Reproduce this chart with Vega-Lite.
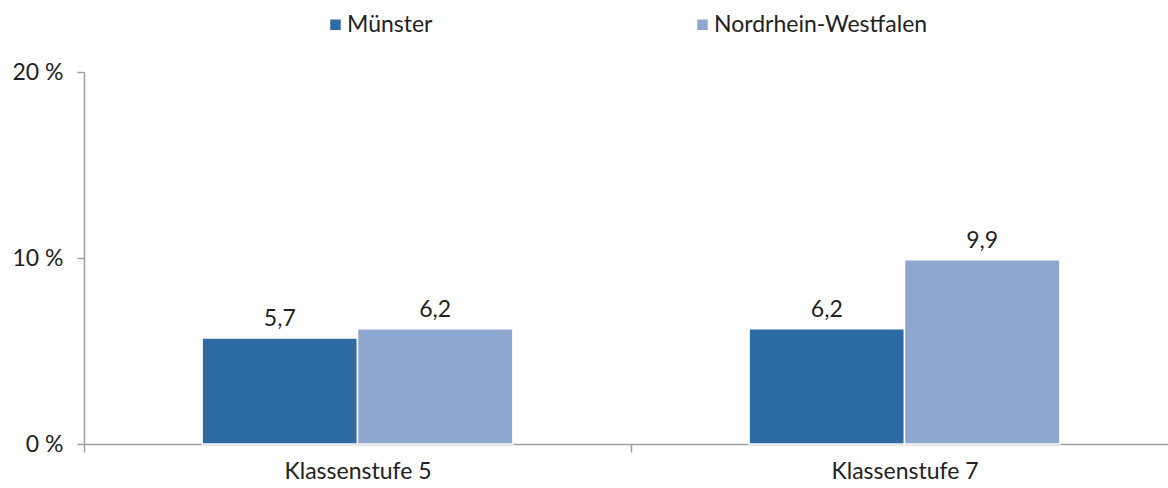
{
  "$schema": "https://vega.github.io/schema/vega-lite/v6.json",
  "width": 1094,
  "height": 372,
  "autosize": {"type": "none"},
  "padding": {"left": 84, "top": 72, "right": 0, "bottom": 44},
  "background": "white",
  "config": {
    "font": "Lato",
    "view": {"stroke": null},
    "locale": {"number": {"decimal": ",", "thousands": ".", "grouping": [3], "currency": ["", " €"]}}
  },
  "data": {
    "values": [
      {"stufe": "Klassenstufe 5", "region": "Münster", "wert": 5.7},
      {"stufe": "Klassenstufe 5", "region": "Nordrhein-Westfalen", "wert": 6.2},
      {"stufe": "Klassenstufe 7", "region": "Münster", "wert": 6.2},
      {"stufe": "Klassenstufe 7", "region": "Nordrhein-Westfalen", "wert": 9.9}
    ]
  },
  "encoding": {
    "x": {
      "field": "stufe", "type": "nominal", "title": null,
      "scale": {"paddingInner": 0, "paddingOuter": 0},
      "axis": {
        "labelAngle": 0, "labelFontSize": 23, "labelColor": "#222222", "labelPadding": 8,
        "domainColor": "#A0A0A0", "domainWidth": 1.5, "tickColor": "#A0A0A0", "tickWidth": 1.5,
        "tickSize": 8, "tickBand": "extent"
      }
    },
    "xOffset": {
      "field": "region", "type": "nominal", "sort": ["Münster", "Nordrhein-Westfalen"],
      "scale": {"paddingInner": 0, "paddingOuter": 0.76}
    },
    "y": {
      "field": "wert", "type": "quantitative", "title": null,
      "scale": {"domain": [0, 20]},
      "axis": {
        "values": [0, 10, 20], "labelExpr": "datum.value + ' %'", "grid": false,
        "labelFontSize": 23, "labelColor": "#222222", "labelPadding": 14,
        "domainColor": "#A0A0A0", "domainWidth": 1.5, "tickColor": "#A0A0A0", "tickWidth": 1.5, "tickSize": 7
      }
    }
  },
  "layer": [
    {
      "mark": {"type": "bar", "stroke": "white", "strokeWidth": 1.5},
      "encoding": {
        "color": {
          "field": "region", "type": "nominal",
          "scale": {"domain": ["Münster", "Nordrhein-Westfalen"], "range": ["#2E6BA5", "#8FA7CF"]},
          "legend": {
            "title": null, "orient": "none", "legendX": 240, "legendY": -59,
            "direction": "horizontal", "columns": 2, "columnPadding": 258,
            "symbolType": "square", "symbolSize": 110, "symbolStrokeWidth": 0,
            "labelFontSize": 23, "labelColor": "#222222", "labelOffset": 0, "labelLimit": 400
          }
        }
      }
    },
    {
      "mark": {"type": "text", "baseline": "bottom", "dy": -7, "fontSize": 23, "color": "#222222"},
      "encoding": {
        "text": {"field": "wert", "type": "quantitative", "format": ".1f"}
      }
    }
  ]
}
